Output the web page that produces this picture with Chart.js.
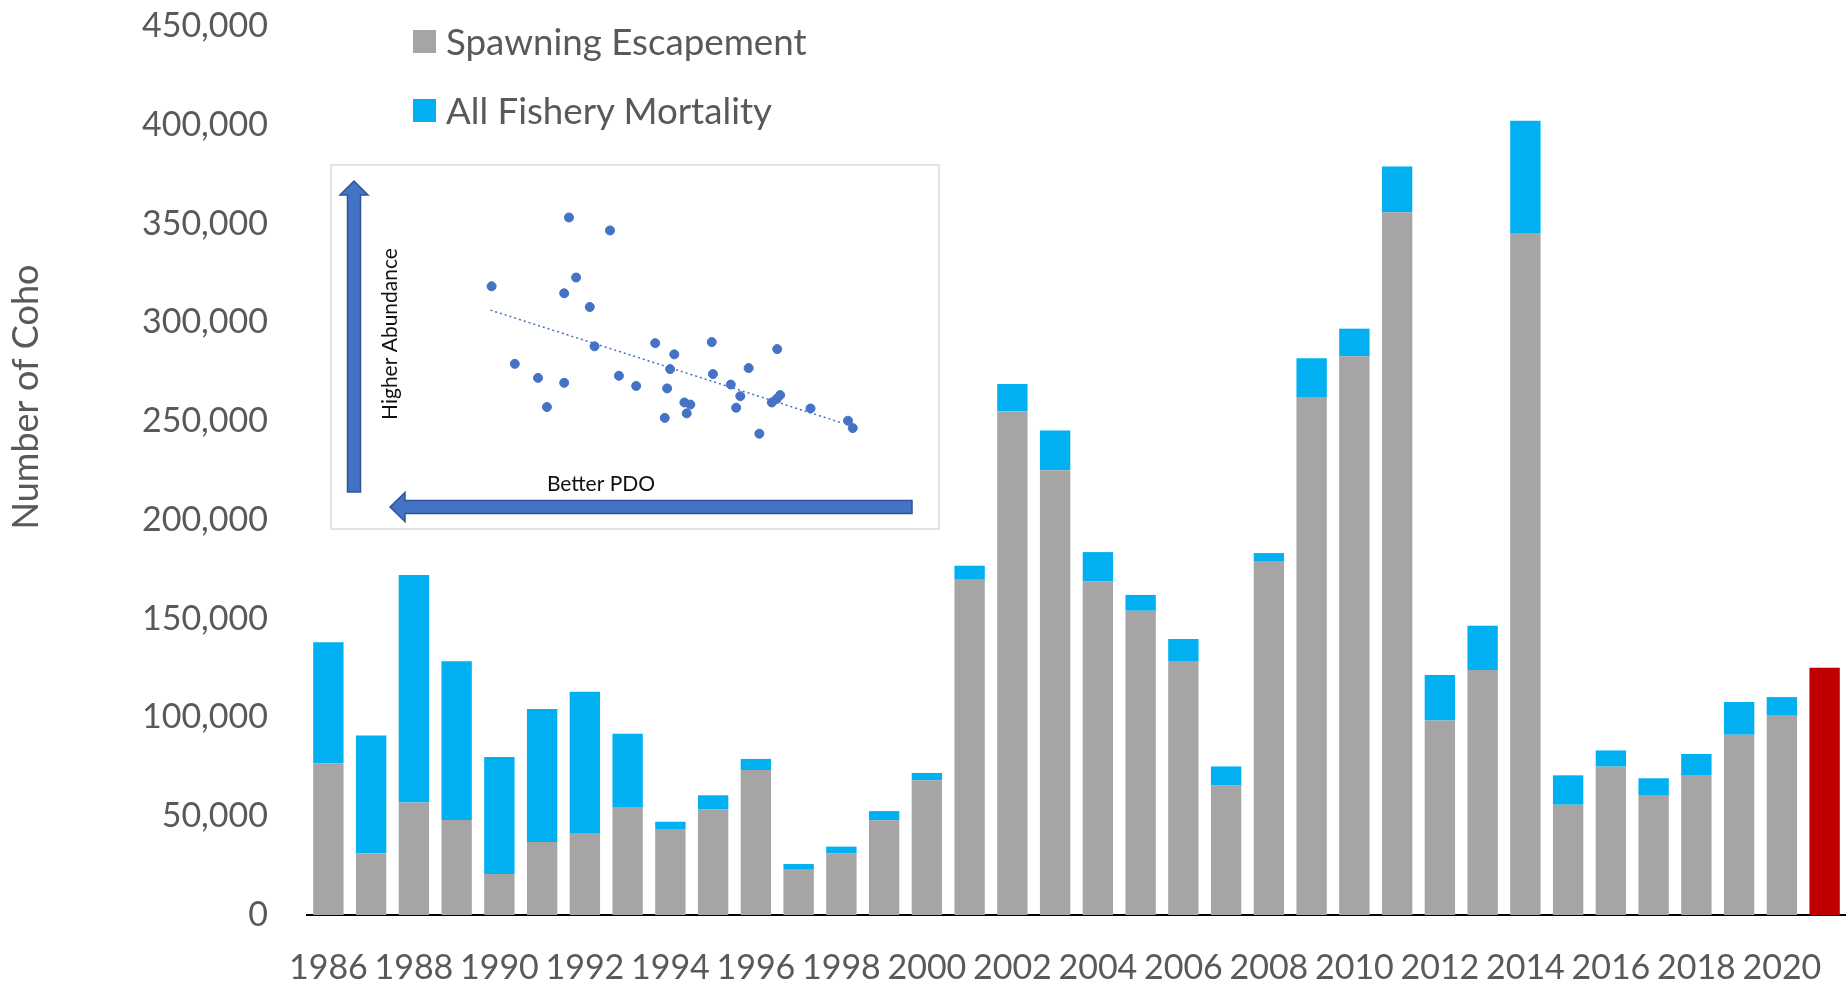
<!DOCTYPE html>
<html>
<head>
<meta charset="utf-8">
<script src="https://cdn.jsdelivr.net/npm/chart.js@4"></script>
<style>
  body { margin: 0; background: #fff; }
  #wrap { position: relative; width: 1846px; height: 984px; }
  #main { position: absolute; left: 0; top: 0; }
  #legend { position: absolute; left: 413px; top: 17px; font-family: Lato, sans-serif; font-size: 36.7px; color: #595959; }
  .item { display: flex; align-items: center; height: 48px; margin-bottom: 21px; white-space: nowrap; }
  .swatch { width: 23px; height: 23px; margin-right: 10px; }
  #inset { position: absolute; left: 330px; top: 164px; width: 606px; height: 362px; border: 2px solid #e4e4e4; background: #fff; }
  #insetChart { position: absolute; left: 0; top: 0; }
</style>
</head>
<body>
<div id="wrap">
  <canvas id="main" width="1846" height="984"></canvas>
  <div id="inset"><canvas id="insetChart" width="606" height="362"></canvas></div>
  <div id="legend"></div>
</div>
<script>
// main chart data
const years = ['1986', '1987', '1988', '1989', '1990', '1991', '1992', '1993', '1994', '1995',
  '1996', '1997', '1998', '1999', '2000', '2001', '2002', '2003', '2004', '2005',
  '2006', '2007', '2008', '2009', '2010', '2011', '2012', '2013', '2014', '2015',
  '2016', '2017', '2018', '2019', '2020', '2021']
const escapement = [76800, 31200, 57000, 48100, 20800, 36900, 41500, 54700, 43500, 53500,
  73400, 22900, 31200, 47900, 68200, 169700, 255000, 225100, 168900, 154000,
  128200, 65500, 179200, 262200, 282800, 355700, 98500, 124000, 344900, 55800,
  75100, 60700, 70500, 91300, 101200, null]
const mortality = [61200, 59600, 115100, 80300, 59200, 67400, 71500, 37100, 3700, 7100,
  5600, 2900, 3400, 4700, 3700, 7100, 13800, 20200, 14800, 8000,
  11500, 9700, 4000, 19600, 14000, 23200, 23000, 22400, 57200, 14900,
  8200, 8500, 11000, 16500, 9100, null]
const forecast = [null, null, null, null, null, null, null, null, null, null,
  null, null, null, null, null, null, null, null, null, null,
  null, null, null, null, null, null, null, null, null, null,
  null, null, null, null, null, 125200]
const yMax = 450000
const yStep = 50000

// inset scatter (PDO vs abundance)
const pdoX = [38.9, 45.8, 25.9, 40.1, 38.1, 42.4, 43.2, 53.4, 62.9, 73.9, 56.6, 29.8,
  55.9, 63.1, 69.1, 33.7, 38.1, 47.3, 50.2, 55.4, 66.1, 67.7, 74.4, 73.8, 73.0,
  58.3, 59.3, 58.7, 35.2, 55.0, 67.0, 79.5, 70.9, 85.8, 86.6]
const abundY = [86.9, 83.2, 67.3, 69.8, 65.3, 61.4, 50.2, 51.1, 51.4, 49.4, 47.9, 45.2,
  43.7, 42.3, 44.0, 41.2, 39.8, 41.8, 38.9, 38.2, 39.3, 36.0, 36.3, 35.2, 34.2,
  34.2, 33.6, 31.1, 32.9, 29.8, 32.7, 32.5, 25.3, 29.0, 26.9]
const trendX = [25.7, 84.9]
const trendY = [60.5, 28.3]

const grey = '#A5A5A5'
const blue = '#00B0F0'
const red = '#C00000'
const textColor = '#595959'
const font = 'Lato'

const yTitle = {
  id: 'yTitle',
  afterDraw(chart) {
    const ctx = chart.ctx
    ctx.save()
    ctx.translate(26, 397)
    ctx.rotate(-Math.PI / 2)
    ctx.font = '36px ' + font
    ctx.fillStyle = textColor
    ctx.textAlign = 'center'
    ctx.textBaseline = 'middle'
    ctx.fillText('Number of Coho', 0, 0)
    ctx.restore()
  }
}

const mainChart = new Chart(document.getElementById('main'), {
  type: 'bar',
  data: {
    labels: years,
    datasets: [
      { label: 'Spawning Escapement', data: escapement, backgroundColor: grey },
      { label: 'All Fishery Mortality', data: mortality, backgroundColor: blue },
      { label: 'Forecast', data: forecast, backgroundColor: red }
    ]
  },
  options: {
    responsive: false,
    animation: false,
    categoryPercentage: 1,
    barPercentage: 0.71,
    layout: { padding: { top: 26, right: 0, bottom: 0, left: 0 } },
    plugins: { legend: { display: false }, tooltip: { enabled: false } },
    scales: {
      x: {
        stacked: true,
        grid: { display: false, drawTicks: false },
        border: { color: '#000', width: 2 },
        ticks: {
          autoSkip: false,
          maxRotation: 0,
          padding: 33,
          color: textColor,
          font: { family: font, size: 34 },
          callback(v, i) { return i % 2 === 0 ? this.getLabelForValue(v) : '' }
        },
        afterFit(s) {
          s.height = 69
          s.paddingLeft = 0
          s.paddingRight = 0
        }
      },
      y: {
        stacked: true,
        min: 0,
        max: yMax,
        grid: { display: false, drawTicks: false },
        border: { display: false },
        ticks: {
          stepSize: yStep,
          padding: 39,
          color: textColor,
          font: { family: font, size: 34 },
          callback: v => v.toLocaleString('en-US')
        },
        afterFit(s) {
          s.width = 307
          s.paddingTop = 0
          s.paddingBottom = 0
        }
      }
    }
  },
  plugins: [yTitle]
})

// legend, only the first two series
const legend = document.getElementById('legend')
mainChart.data.datasets.slice(0, 2).forEach(ds => {
  const item = document.createElement('div')
  item.className = 'item'
  item.innerHTML = '<span class="swatch" style="background:' + ds.backgroundColor + '"></span>' + ds.label
  legend.appendChild(item)
})

// arrows + labels of the inset
const insetDeco = {
  id: 'insetDeco',
  beforeDatasetsDraw(chart) {
    const ctx = chart.ctx
    ctx.save()
    ctx.fillStyle = '#4472C4'
    ctx.strokeStyle = '#2F5597'
    ctx.lineWidth = 1.5
    // up arrow
    ctx.beginPath()
    ctx.moveTo(15.5, 326)
    ctx.lineTo(15.5, 29)
    ctx.lineTo(8, 29)
    ctx.lineTo(22, 15)
    ctx.lineTo(36, 29)
    ctx.lineTo(28.5, 29)
    ctx.lineTo(28.5, 326)
    ctx.closePath()
    ctx.fill()
    ctx.stroke()
    // left arrow
    ctx.beginPath()
    ctx.moveTo(580, 334.5)
    ctx.lineTo(73, 334.5)
    ctx.lineTo(73, 326.5)
    ctx.lineTo(58, 341)
    ctx.lineTo(73, 355.5)
    ctx.lineTo(73, 347.5)
    ctx.lineTo(580, 347.5)
    ctx.closePath()
    ctx.fill()
    ctx.stroke()

    ctx.fillStyle = '#111'
    ctx.textAlign = 'center'
    ctx.textBaseline = 'middle'
    ctx.font = '21px ' + font
    ctx.fillText('Better PDO', 269, 318)
    ctx.translate(58, 168)
    ctx.rotate(-Math.PI / 2)
    ctx.font = '21px ' + font
    ctx.fillText('Higher Abundance', 0, 0)
    ctx.restore()
  }
}

new Chart(document.getElementById('insetChart'), {
  type: 'scatter',
  data: {
    datasets: [
      {
        data: pdoX.map((x, i) => ({ x: x, y: abundY[i] })),
        backgroundColor: '#4472C4',
        borderColor: '#4472C4',
        pointRadius: 4.5
      },
      {
        type: 'line',
        data: trendX.map((x, i) => ({ x: x, y: trendY[i] })),
        borderColor: '#4472C4',
        borderWidth: 1.5,
        borderDash: [2, 3],
        pointRadius: 0
      }
    ]
  },
  options: {
    responsive: false,
    animation: false,
    layout: { padding: 0 },
    plugins: { legend: { display: false }, tooltip: { enabled: false } },
    scales: {
      x: { type: 'linear', min: 0, max: 100, display: false },
      y: { min: 0, max: 100, display: false }
    }
  },
  plugins: [insetDeco]
})
</script>
</body>
</html>
